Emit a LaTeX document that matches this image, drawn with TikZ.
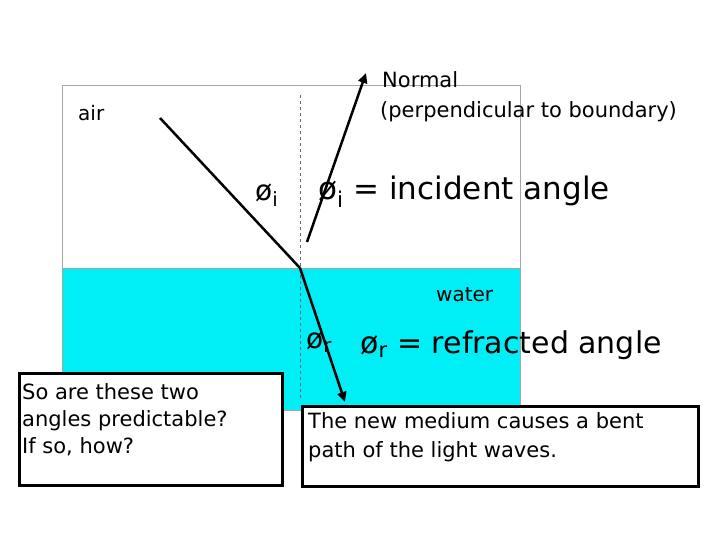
\documentclass[tikz,border=0pt]{standalone}
\usepackage{fontspec}
\setmainfont{DejaVu Sans}
\usetikzlibrary{arrows.meta}
\definecolor{wat}{RGB}{0,238,245}
\begin{document}
\begin{tikzpicture}[x=1pt,y=-1pt,
  ray/.style={line width=2.5pt,-{Triangle[length=10pt,width=9pt]}},
  box/.style={draw=black,line width=2.5pt,fill=white,inner sep=0pt},
  lbl/.style={anchor=west,inner sep=0pt}]
\useasboundingbox (0,0) rectangle (720,540);
\fill[wat] (62,268) rectangle (520,410);
\draw[gray!70] (62,85) rectangle (520,410);
\draw[gray!70] (62,268) -- (520,268);
\draw[dashed,gray!80!black] (300,95) -- (300,400);
\coordinate (s) at (160,118);
\coordinate (p) at (300,268);
\coordinate (e) at (345,402);
\coordinate (a0) at (307,242);
\coordinate (a1) at (366,73);
\draw[line width=2.5pt] (s) -- (p);
\draw[ray] (p) -- (e);
\draw[ray] (a0) -- (a1);
\node[lbl,font=\fontsize{20}{22}\selectfont] (air) at (78,113) {air};
\node[lbl,font=\fontsize{21}{23}\selectfont] (n1) at (382,80) {Normal};
\node[lbl,font=\fontsize{21}{23}\selectfont] (n2) at (380,112) {(perpendicular to boundary)};
\node[lbl,font=\fontsize{28}{30}\selectfont] (oi) at (255,195) {ø\textsubscript{i}};
\node[lbl,font=\fontsize{31}{33}\selectfont] (ia) at (318,192) {ø\textsubscript{i} = incident angle};
\node[lbl,font=\fontsize{20}{22}\selectfont] (w) at (436,295) {water};
\node[lbl,font=\fontsize{28}{30}\selectfont] (or) at (306,342) {ø\textsubscript{r}};
\node[lbl,font=\fontsize{30}{32}\selectfont] (ra) at (360,345) {ø\textsubscript{r} = refracted angle};
\node[box,minimum width=263pt,minimum height=112pt,anchor=north west] (b1) at (18,372) {};
\node[lbl,anchor=north west,align=left,font=\fontsize{21}{27}\selectfont] (t1) at (22,383) {So are these two\\angles predictable?\\If so, how?};
\node[box,minimum width=396pt,minimum height=80pt,anchor=north west] (b2) at (301,405) {};
\node[lbl,anchor=north west,align=left,font=\fontsize{21}{29}\selectfont] (t2) at (308,412) {The new medium causes a bent\\path of the light waves.};
\end{tikzpicture}
\end{document}
